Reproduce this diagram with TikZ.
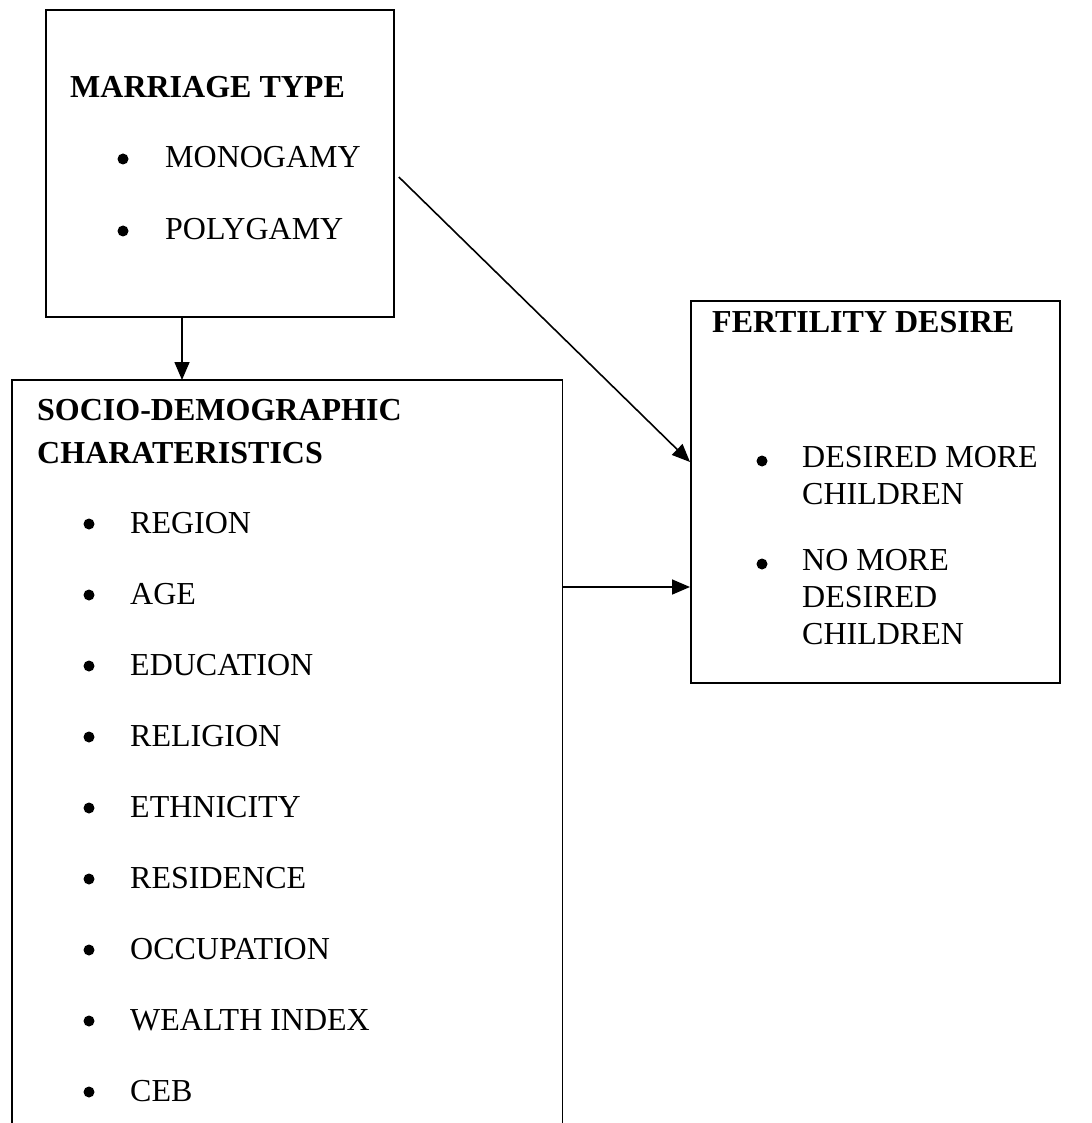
\documentclass[tikz,border=0pt]{standalone}
\usepackage{fontspec}
\setmainfont{Liberation Serif}
\usetikzlibrary{arrows.meta,calc}
\begin{document}
\begin{tikzpicture}[x=1pt,y=-1pt,
  box/.style={draw, line width=1.8pt, inner sep=0pt, anchor=north west},
  txt/.style={anchor=base west, inner sep=0pt, font=\fontsize{32}{37}\selectfont},
  hd/.style={txt, font=\fontsize{32}{37}\selectfont\bfseries},
  arr/.style={line width=1.6pt, -{Triangle[length=18pt,width=15pt]}},
  bul/.style={fill=black}]
\useasboundingbox[fill=white] (0,0) rectangle (1091,1123);

% Marriage type box
\node[box, minimum width=348pt, minimum height=307pt] (mt) at (45,9) {};
\node[hd] (mth) at (70,98) {MARRIAGE TYPE};
\fill[bul] (123,159) circle (5.5);
\node[txt] (mono) at (165,168) {MONOGAMY};
\fill[bul] (123,231) circle (5.5);
\node[txt] (poly) at (165,240) {POLYGAMY};

% Socio-demographic box (open at bottom)
\node[inner sep=0pt, minimum width=550pt, minimum height=743pt, anchor=north west] (sd) at (12,380) {};
\draw[line width=1.8pt] (sd.south west) -- (sd.north west) -- (sd.north east) -- (sd.south east);
\node[hd] (sdh1) at (37,420) {SOCIO-DEMOGRAPHIC};
\node[hd] (sdh2) at (37,463) {CHARATERISTICS};
\foreach \t [count=\i from 0] in {REGION,AGE,EDUCATION,RELIGION,ETHNICITY,RESIDENCE,OCCUPATION,WEALTH INDEX,CEB}{
  \fill[bul] (89,{533+71*\i-9}) circle (5.5);
  \node[txt] (it\i) at (130,{533+71*\i}) {\t};
}

% Fertility desire box
\node[box, minimum width=369pt, minimum height=382pt] (fd) at (690,300) {};
\node[hd] (fdh) at (712,332) {FERTILITY DESIRE};
\fill[bul] (762,461) circle (5.5);
\node[txt, align=left, anchor=north west] (dm) at (802,446) {DESIRED MORE\\CHILDREN};
\fill[bul] (762,564) circle (5.5);
\node[txt, align=left, anchor=north west] (nm) at (802,549) {NO MORE\\DESIRED\\CHILDREN};

% Connectors
\coordinate (a1) at ($(mt.north east)+(4,168)$);
\coordinate (a2) at ($(fd.north west)+(0,162)$);
\draw[arr] (a1) -- (a2);
\coordinate (b1) at ($(mt.south west)+(137,0)$);
\draw[arr] (b1) -- (b1 |- sd.north);
\coordinate (c1) at ($(sd.north east)+(0,207)$);
\draw[arr] (c1) -- (c1 -| fd.west);
\end{tikzpicture}
\end{document}
